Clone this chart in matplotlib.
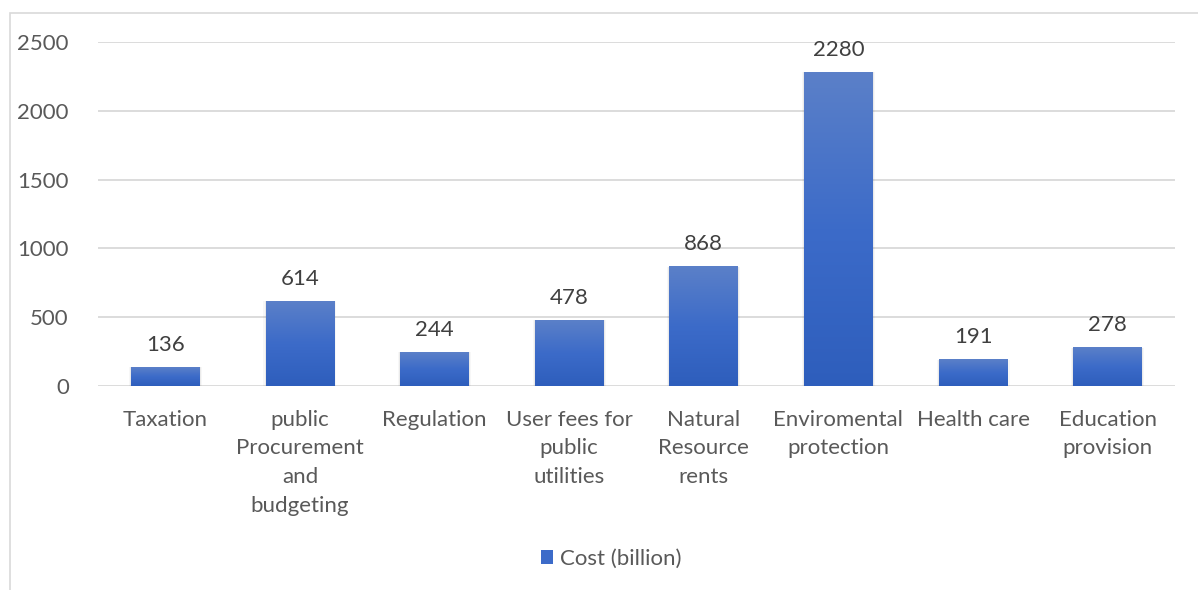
import numpy as np
import matplotlib.pyplot as plt
from matplotlib.colors import LinearSegmentedColormap
from matplotlib.patches import Rectangle, Patch

plt.rcParams['font.family'] = ['Lato', 'DejaVu Sans']

categories = ["Taxation", "public\nProcurement\nand\nbudgeting", "Regulation",
              "User fees for\npublic\nutilities", "Natural\nResource\nrents",
              "Enviromental\nprotection", "Health care", "Education\nprovision"]
cost = [136, 614, 244, 478, 868, 2280, 191, 278]
yticks = [0, 500, 1000, 1500, 2000, 2500]

text_col = "#595959"
grid_col = "#D9D9D9"
# bottom -> top gradient of the bar fill
bar_cmap = LinearSegmentedColormap.from_list(
    "bars", ["#2E5EBC", "#3C6BC9", "#5B80C8"])

fig = plt.figure(figsize=(11.98, 5.9), dpi=100)
ax = fig.add_axes([0.0818, 0.3458, 0.899, 0.583])

# outer chart frame
fig.patches.append(Rectangle((10 / 1198, -0.1), 1.2, 0.978 + 0.1,
                             transform=fig.transFigure, fill=False,
                             edgecolor=grid_col, linewidth=1.2))

x = np.arange(len(categories))
width = 0.51
grad = np.linspace(0, 1, 256).reshape(-1, 1)

for xi, v in zip(x, cost):
    # faint shadow behind each bar
    for k, a in enumerate([0.03, 0.05]):
        pad = (2 - k) * 0.008
        ax.add_patch(Rectangle((xi - width / 2 - pad, 0), width + 2 * pad,
                               v + pad * 20, facecolor="#000000",
                               alpha=a, edgecolor="none", zorder=2))
    ax.imshow(grad, cmap=bar_cmap, origin="lower", aspect="auto",
              extent=(xi - width / 2, xi + width / 2, 0, v), zorder=3)
    ax.text(xi, v + 90, str(v), ha="center", va="bottom",
            fontsize=16, color="#404040", zorder=4)

ax.set_xlim(-0.5, len(categories) - 0.5)
ax.set_ylim(0, 2500)
ax.set_yticks(yticks)
ax.set_xticks(x)
ax.set_xticklabels(categories, linespacing=1.55)
ax.tick_params(axis="both", length=0, labelsize=16, labelcolor=text_col)
ax.tick_params(axis="x", pad=17)
ax.tick_params(axis="y", pad=21)
ax.grid(axis="y", color=grid_col, linewidth=1.3, zorder=0)
ax.set_axisbelow(True)
for s in ax.spines.values():
    s.set_visible(False)

fig.legend(handles=[Patch(facecolor="#3C6BC9", label="Cost (billion)")],
           loc="center", bbox_to_anchor=(0.51, 1 - 559 / 590), frameon=False,
           fontsize=16, labelcolor=text_col, handlelength=0.55, handleheight=0.55,
           handletextpad=0.3)

fig.savefig("out.png", dpi=100)
